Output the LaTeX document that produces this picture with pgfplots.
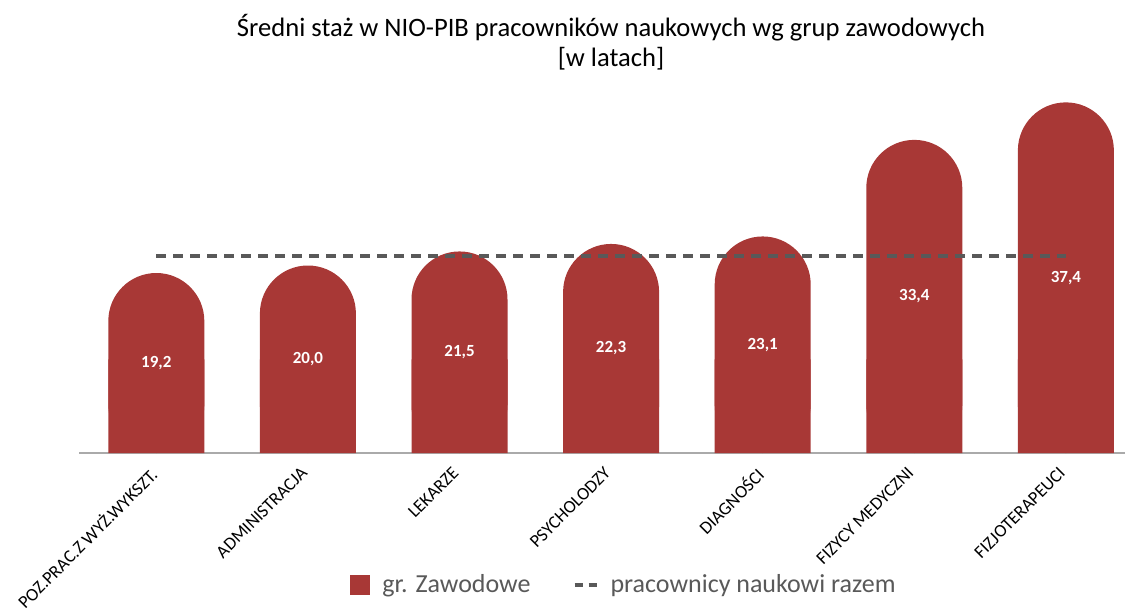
\documentclass[border=0pt]{standalone}
\usepackage{fontspec}
\setmainfont{Carlito}
\usepackage{pgfplots}
\pgfplotsset{compat=1.18}
\usepackage{pgfplotstable}
\definecolor{barred}{RGB}{168,56,54}
\definecolor{dashgray}{RGB}{89,89,89}
\definecolor{axgray}{RGB}{170,170,170}
\definecolor{legtext}{RGB}{89,89,89}

\pgfplotstableread{
x v lbl
0 19.2 19,2
1 20.0 20,0
2 21.5 21,5
3 22.3 22,3
4 23.1 23,1
5 33.4 33,4
6 37.4 37,4
}\datatable

\begin{document}
\begin{tikzpicture}
\useasboundingbox (0,0) rectangle (564pt,306pt);
\begin{axis}[
  at={(39.5pt,79.5pt)}, anchor=south west,
  scale only axis, width=523pt, height=187.5pt,
  xmin=-0.51, xmax=6.39, ymin=0, ymax=40,
  axis x line=bottom, axis y line=none,
  x axis line style={-, draw=axgray, line width=1pt},
  xtick={0,1,2,3,4,5,6},
  xticklabels={POZ.PRAC.Z WYŻ.WYKSZT., ADMINISTRACJA, LEKARZE, PSYCHOLODZY, DIAGNOŚCI, FIZYCY MEDYCZNI, FIZJOTERAPEUCI},
  major tick length=0pt,
  xticklabel style={xshift=-4pt, yshift=-5.5pt, rotate=45, anchor=north east, font=\fontsize{9}{11}\selectfont, inner sep=0.5pt},
  ytick=\empty,
  title={Średni staż w NIO-PIB pracowników naukowych wg grup zawodowych\\{[w latach]}},
  title style={font=\fontsize{13.3}{15}\selectfont, align=center, xshift=4.5pt, yshift=-5.5pt},
  legend style={at={(0.522,-0.352)}, anchor=center, draw=none, fill=none,
    legend columns=2, font=\fontsize{13}{15}\selectfont, text=legtext,
    /tikz/every odd column/.append style={column sep=4pt},
    /tikz/every even column/.append style={column sep=19pt}},
  clip=false,
]
\addplot[ybar, bar width=48pt, fill=barred, draw=none, rounded corners=24pt,
  legend image code/.code={\fill[barred, sharp corners] (0pt,-5pt) rectangle (10pt,5pt);}]
  table[x=x, y=v]{\datatable};
\addlegendentry{gr. Zawodowe}
\addplot[ybar, bar width=48pt, fill=barred, draw=none, forget plot]
  coordinates {(0,10) (1,10) (2,10) (3,10) (4,10) (5,10) (6,10)};
\addplot[dashgray, line width=2pt, dash pattern=on 5pt off 3.5pt, sharp plot, no marks,
  legend image code/.code={\draw[dashgray, line width=2pt, dash pattern=on 4pt off 3pt] (0pt,0pt) -- (11pt,0pt);}]
  coordinates {(0,21.0) (6,21.0)};
\addlegendentry{pracownicy naukowi razem}
\addplot[draw=none, no marks, forget plot, nodes near coords, point meta=explicit symbolic,
  nodes near coords style={anchor=center, text=white, font=\bfseries\fontsize{8.5}{10}\selectfont}]
  table[x=x, y expr=\thisrow{v}/2, meta=lbl]{\datatable};
\end{axis}
\end{tikzpicture}
\end{document}
